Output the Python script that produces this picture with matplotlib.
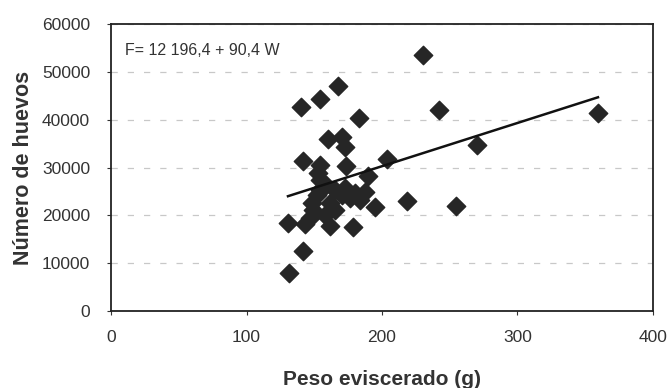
import matplotlib
matplotlib.use("Agg")
import matplotlib.pyplot as plt
import numpy as np

plt.rcParams['font.family'] = ['Liberation Sans', 'DejaVu Sans']

peso = [131.4, 141.7, 130.6, 143.2, 161.6, 178.6, 149.1, 146.9, 152.0, 161.6,
        170.5, 180.0, 187.5, 194.8, 189.7, 154.2, 154.2, 141.7, 173.4, 203.7,
        160.0, 170.5, 172.7, 183.0, 140.2, 154.2, 167.5, 230.3, 242.0, 270.0,
        359.4, 218.5, 254.6, 158.7, 165.3, 154.2, 148.3, 172.7, 176.4, 165.3,
        157.9, 184.1, 152.8]
huevos = [7900, 12500, 18400, 18200, 17800, 17600, 21100, 19400, 24200, 22600,
          24200, 24700, 24900, 21700, 28200, 27400, 30500, 31400, 30300, 31800,
          36000, 36400, 34300, 40300, 42600, 44300, 47000, 53500, 42000, 34700,
          41400, 23000, 22000, 26300, 25300, 25300, 22600, 25700, 23600, 21100,
          20100, 23200, 28800]

intercept = 12196.4
slope = 90.4
equation = "F= 12 196,4 + 90,4 W"
xlabel = "Peso eviscerado (g)"
ylabel = "Número de huevos"
xticks = [0, 100, 200, 300, 400]
yticks = [0, 10000, 20000, 30000, 40000, 50000, 60000]

fig = plt.figure(figsize=(6.7, 3.88), dpi=100)
ax = fig.add_axes([0.1657, 0.1985, 0.8089, 0.7395])

ax.set_xlim(0, 400)
ax.set_ylim(0, 60000)
ax.set_xticks(xticks)
ax.set_yticks(yticks)
ax.yaxis.grid(True, color='#c8c8c8', linestyle=(0, (5, 8)), linewidth=0.9)
ax.set_axisbelow(True)

ax.scatter(peso, huevos, marker='D', s=88, color='#262626', edgecolors='#262626', zorder=3)

xl = np.array([min(peso), max(peso)])
ax.plot(xl, intercept + slope * xl, color='#111111', linewidth=1.8, zorder=4)

ax.text(0.025, 0.935, equation, transform=ax.transAxes, fontsize=11.5,
        color='#333333', va='top', ha='left')

for s in ax.spines.values():
    s.set_color('#222222')
    s.set_linewidth(1.3)

ax.tick_params(axis='both', labelsize=12.5, colors='#333333', length=3, width=0.8)
ax.tick_params(axis='x', pad=11)
ax.tick_params(axis='y', pad=12)
ax.set_xlabel(xlabel, fontsize=15, fontweight='bold', color='#333333', labelpad=18)
ax.set_ylabel(ylabel, fontsize=15.5, fontweight='bold', color='#333333', labelpad=6)

fig.savefig("out.png", dpi=100)
